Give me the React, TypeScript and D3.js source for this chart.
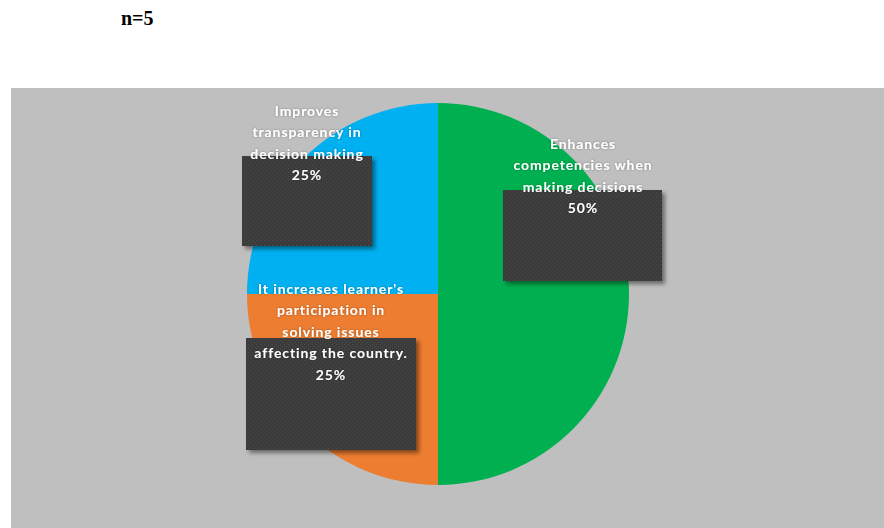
import React from "react";
import * as d3 from "d3";

const categories = [
  "Enhances competencies when making decisions",
  "It increases learner's participation in solving issues affecting the country.",
  "Improves transparency in decision making",
];
const values = [50, 25, 25];
const colors = ["#00B050", "#ED7D31", "#00B0F0"];
const labelLines = [
  ["Enhances", "competencies when", "making decisions"],
  ["It increases learner's", "participation in", "solving issues", "affecting the country."],
  ["Improves", "transparency in", "decision making"],
];
const title = "n=5";

// layout (positions of manually placed data labels, relative to pie centre)
const labelLayout = [
  { dx: 145, dy: -151, box: { x: 65, y: -104, w: 159, h: 91 } },
  { dx: -107, dy: -6, box: { x: -192, y: 44, w: 170, h: 112 } },
  { dx: -131, dy: -184, box: { x: -196, y: -138, w: 130, h: 90 } },
];

export default function App() {
  const W = 884, H = 528;
  const cx = 438, cy = 294, r = 191;
  const pie = d3.pie<number>().sort(null).startAngle(0).endAngle(2 * Math.PI);
  const arcs = pie(values);
  const arcGen = d3.arc<d3.PieArcDatum<number>>().innerRadius(0).outerRadius(r);
  const total = d3.sum(values);
  const lh = 21.5;
  return (
    <svg width={W} height={H} style={{ position: "fixed", left: 0, top: 0, background: "#fff" }}>
      <defs>
        <pattern id="dots" width="4" height="4" patternUnits="userSpaceOnUse">
          <rect width="4" height="4" fill="#3b3b3b" />
          <rect x="0" y="0" width="1" height="1" fill="#4d4d4d" />
          <rect x="2" y="2" width="1" height="1" fill="#4d4d4d" />
        </pattern>
        <filter id="shadow" x="-20%" y="-20%" width="140%" height="140%">
          <feDropShadow dx="3" dy="3" stdDeviation="2" floodColor="#000" floodOpacity="0.45" />
        </filter>
        <filter id="glow" x="-10%" y="-30%" width="120%" height="160%">
          <feDropShadow dx="0" dy="0" stdDeviation="1" floodColor="#000" floodOpacity="0.35" />
        </filter>
      </defs>
      <text x={121} y={25} fontFamily="'Liberation Serif', 'Times New Roman', serif" fontWeight="bold" fontSize={20} fill="#000">
        {title}
      </text>
      <rect x={11} y={88} width={W - 11} height={H - 88} fill="#BFBFBF" />
      <g transform={`translate(${cx},${cy})`}>
        {arcs.map((a, i) => (
          <path key={categories[i]} d={arcGen(a) || ""} fill={colors[i]} />
        ))}
        {arcs.map((a, i) => {
          const L = labelLayout[i];
          return (
            <rect key={"b" + i} x={L.box.x} y={L.box.y} width={L.box.w} height={L.box.h}
              fill="url(#dots)" filter="url(#shadow)" />
          );
        })}
        {arcs.map((a, i) => {
          const L = labelLayout[i];
          const lines = [...labelLines[i], `${Math.round((values[i] / total) * 100)}%`];
          return (
            <text key={"t" + i} textAnchor="middle" fontFamily="Lato, 'Open Sans', sans-serif"
              fontWeight="bold" fontSize={14} fill="#fff" letterSpacing={0.9} filter="url(#glow)">
              {lines.map((s, j) => (
                <tspan key={j} x={L.dx} y={L.dy + j * lh} dominantBaseline="central">{s}</tspan>
              ))}
            </text>
          );
        })}
      </g>
    </svg>
  );
}
